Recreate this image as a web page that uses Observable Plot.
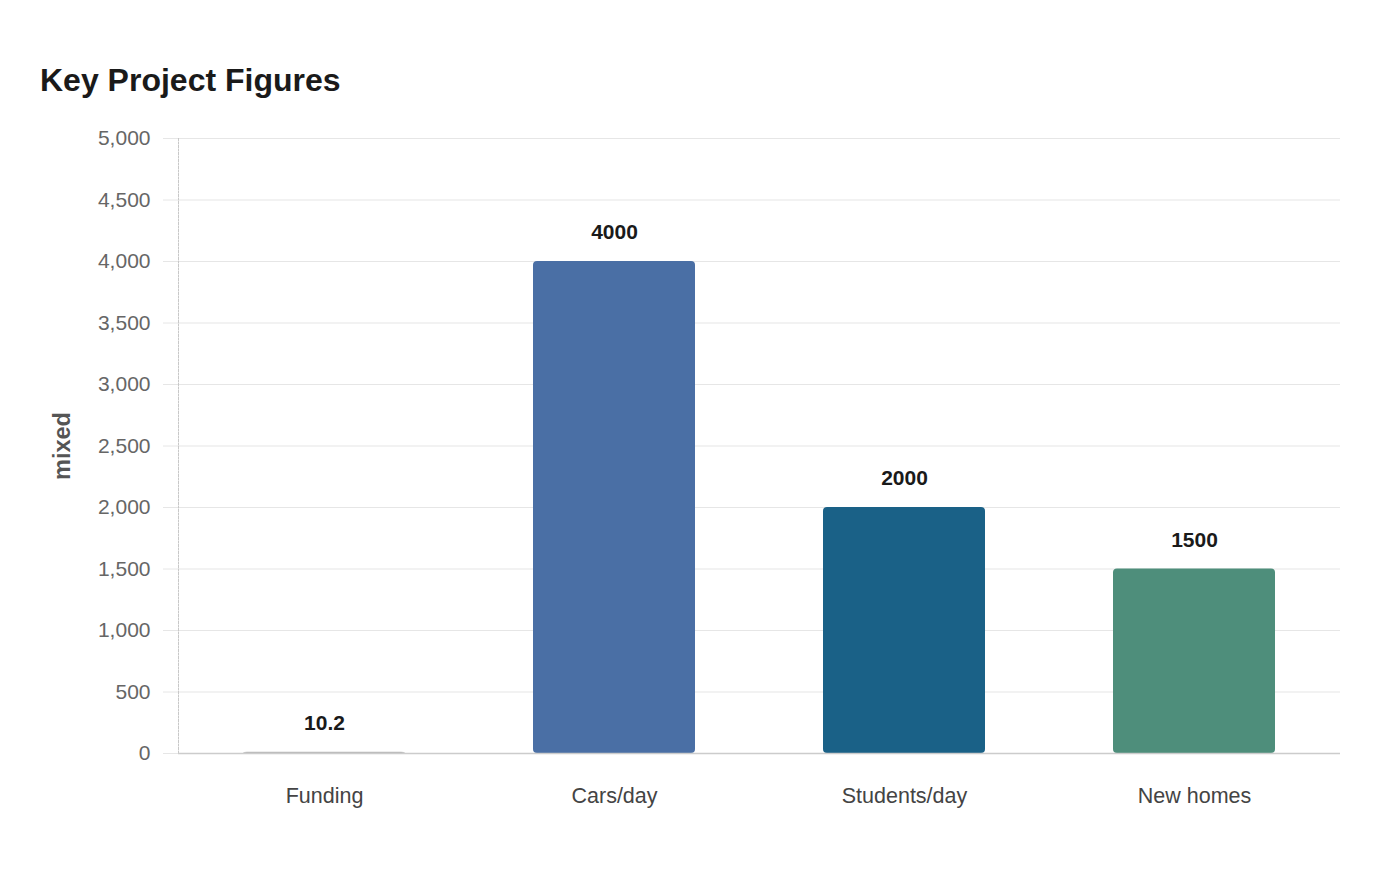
<!DOCTYPE html>
<html>
<head>
<meta charset="utf-8">
<script src="https://cdn.jsdelivr.net/npm/d3@7"></script>
<script src="https://cdn.jsdelivr.net/npm/@observablehq/plot@0.6"></script>
<style>
  body { margin: 0; background: #fff; font-family: "Liberation Sans", Arial, sans-serif; }
  #title { height: 110px; box-sizing: border-box; padding: 64px 0 0 40px; font-family: "Liberation Sans", Arial, sans-serif; font-size: 32px; font-weight: bold; color: #1a1a1a; line-height: 1; }
  svg { display: block; }
</style>
</head>
<body>
<div id="title">Key Project Figures</div>
<div id="chart"></div>
<script>
const categories = ["Funding", "Cars/day", "Students/day", "New homes"];
const values = [10.2, 4000, 2000, 1500];
const labels = ["10.2", "4000", "2000", "1500"];
const colors = ["#b8b8b8", "#4a6fa5", "#1a6187", "#4e8e7b"];
const yTicks = [0, 500, 1000, 1500, 2000, 2500, 3000, 3500, 4000, 4500, 5000];
const yLabel = "mixed";

const data = categories.map((c, i) => ({category: c, value: values[i], label: labels[i], color: colors[i]}));

const chart = Plot.plot({
  width: 1400,
  height: 770,
  marginTop: 28,
  marginBottom: 127,
  marginLeft: 178,
  marginRight: 60,
  style: {fontFamily: "'Liberation Sans', Arial, sans-serif", background: "#fff"},
  x: {domain: categories, paddingInner: 0.44, paddingOuter: 0.22, label: null},
  y: {domain: [0, 5000], label: null},
  marks: [
    Plot.gridY(yTicks, {stroke: "#e6e6e6", strokeOpacity: 1, strokeWidth: 1.2}),
    Plot.axisY(yTicks, {tickSize: 15, tickPadding: 13, stroke: "#e6e6e6", strokeOpacity: 1, fill: "#666", fontSize: 21, tickFormat: d3.format(","), label: null}),
    Plot.frame({anchor: "left", stroke: "#c8c8c8", strokeDasharray: "2,1.5"}),
    Plot.barY(data, {x: "category", y: "value", fill: "color", rx: 4}),
    Plot.ruleY([0], {stroke: "#cccccc", strokeWidth: 1.5}),
    Plot.axisX({tickSize: 0, tickPadding: 34, fill: "#444", fontSize: 21.5, label: null}),
    Plot.text(data, {x: "category", y: "value", text: "label", dy: -29, fontSize: 21, fontWeight: "bold", fill: "#1a1a1a"}),
    Plot.text([yLabel], {frameAnchor: "left", textAnchor: "middle", rotate: -90, dx: -116, fontSize: 23.5, fontWeight: "bold", fill: "#555"})
  ]
});
document.getElementById("chart").appendChild(chart);
</script>
</body>
</html>
